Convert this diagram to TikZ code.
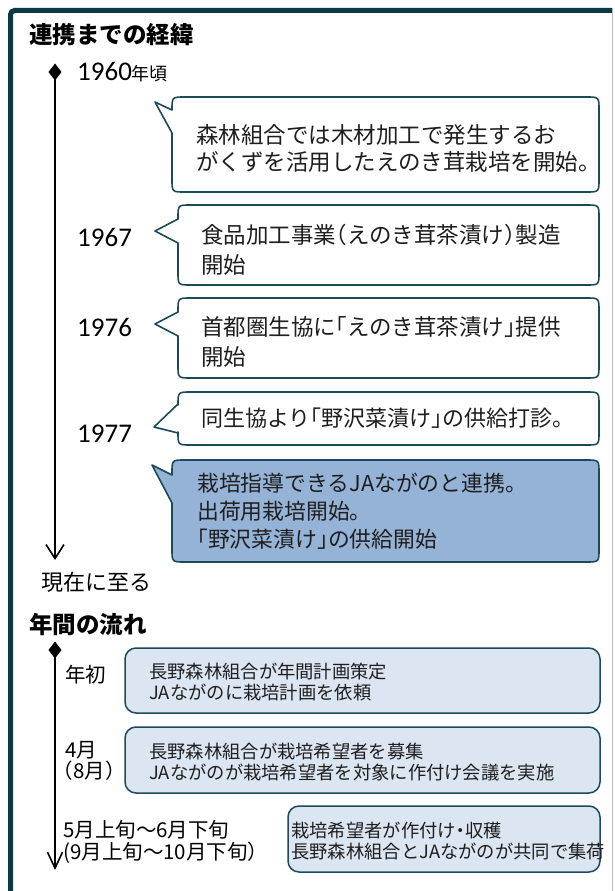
\documentclass[tikz,border=0pt]{standalone}
\usepackage{fontspec}
\setmainfont{Noto Sans CJK JP}
\newfontfamily\numfont{Carlito}
\usetikzlibrary{shapes.geometric,arrows.meta}
\definecolor{framec}{HTML}{0B3A46}
\definecolor{bordc}{HTML}{1C4A59}
\definecolor{bluef}{HTML}{95B3D7}
\definecolor{lightf}{HTML}{DCE6F2}
\definecolor{txtc}{HTML}{1E1E1E}
\newcommand\hb[1]{{\addfontfeature{RawFeature=+halt}#1}}
\newcommand\bubR{13}
% L T R B tipx tipy a1 a2 fill
\newcommand\bubble[9]{\draw[bubstyle,fill=#9] (#1,#7) -- (#5,#6) -- (#1,#8) -- (#1,#4-\bubR) .. controls (#1,#4) .. (#1+\bubR,#4) -- (#3-\bubR,#4) .. controls (#3,#4) .. (#3,#4-\bubR) -- (#3,#2+\bubR) .. controls (#3,#2) .. (#3-\bubR,#2) -- (#1+\bubR,#2) .. controls (#1,#2) .. (#1,#2+\bubR) -- cycle;}
\newcommand\diamondat[1]{\fill[black] (#1) ++(0,-8.5) -- ++(6.5,8.5) -- ++(-6.5,8.5) -- ++(-6.5,-8.5) -- cycle;}
\tikzset{
  bubstyle/.style={draw=bordc,line width=1.6pt,line join=round},
  boxstyle/.style={draw=bordc,line width=1.5pt,fill=lightf,rounded corners=11pt},
  heading/.style={anchor=west,inner sep=0pt,text=black,font=\fontsize{23.5}{26}\selectfont\bfseries},
  yearlab/.style={anchor=west,inner sep=0pt,text=black,font=\numfont\fontsize{27}{30}\selectfont},
  bubtxt/.style={anchor=west,inner sep=0pt,align=left,text=txtc},
  boxtxt/.style={anchor=west,inner sep=0pt,align=left,text=txtc,font=\fontsize{18.3}{21}\selectfont},
  sidelab/.style={anchor=west,inner sep=0pt,align=left,text=black,font=\fontsize{20.5}{20}\selectfont},
  dpt/.style={inner sep=0pt,minimum size=0pt},
  tline/.style={draw=black,line width=1.6pt},
}
\begin{document}
\begin{tikzpicture}[x=1pt,y=-1pt]
\useasboundingbox (0,0) rectangle (614,891);
\fill[white] (0,0) rectangle (614,891);
% frame
\draw[framec,line width=5pt,rounded corners=4pt] (10.5,900) -- (10.5,10.5) -- (612,10.5);
\draw[gray!55,line width=1pt] (612.5,8) -- (612.5,891);

% ---- section 1
\node[heading] (h1) at (29,35) {連携までの経緯};
\node[dpt] (d1) at (55,72) {};
\coordinate (e1) at (55,560);
\draw[tline,-{Straight Barb[length=14pt,width=18pt]}] (d1.center) -- (e1);
\diamondat{d1.center}

\node[yearlab] (y1960) at (77,72) {1960{\rmfamily\fontsize{18}{20}\selectfont 年頃}};
\node[yearlab] (y1967) at (77,237) {1967};
\node[yearlab] (y1976) at (77,327) {1976};
\node[yearlab] (y1977) at (77,434) {1977};

\bubble{172}{97}{599}{192}{155}{102}{110}{133}{white}
\bubble{178}{205}{599}{285}{155}{231}{219}{243}{white}
\bubble{178}{298}{599}{378}{155}{324}{312}{336}{white}
\bubble{178}{392}{599}{445}{154}{427}{404}{433}{white}
\bubble{172}{460}{599}{562}{152}{465}{475}{503}{bluef}

\node[bubtxt,font=\fontsize{22.5}{27}\selectfont] (b1) at (196,148.5) {森林組合では木材加工で発生するお\\がくずを活用したえのき茸栽培を開始。};
\node[bubtxt,font=\fontsize{22.5}{30}\selectfont] (b2) at (201,250) {食品加工事業\hb{（}えのき茸茶漬け\hb{）}製造\\開始};
\node[bubtxt,font=\fontsize{22.5}{30}\selectfont] (b3) at (201,342) {首都圏生協に\hb{「}えのき茸茶漬け\hb{」}提供\\開始};
\node[bubtxt,font=\fontsize{22}{30}\selectfont] (b4) at (201,418) {同生協より\hb{「}野沢菜漬け\hb{」}の供給打診。};
\node[bubtxt,font=\fontsize{21.8}{28}\selectfont] (b5) at (197,511) {栽培指導できるJAながのと連携。\\出荷用栽培開始。\\\hb{「}野沢菜漬け\hb{」}の供給開始};

\node[anchor=west,inner sep=0pt,text=black,font=\fontsize{22}{24}\selectfont] (now) at (41,582) {現在に至る};

% ---- section 2
\node[heading] (h2) at (29,625) {年間の流れ};
\node[dpt] (d2) at (55,650) {};
\coordinate (e2) at (55,870);
\draw[tline,-{Straight Barb[length=16pt,width=15pt]}] (d2.center) -- (e2);
\diamondat{d2.center}

\draw[boxstyle] (125,648) rectangle (600,713);
\draw[boxstyle] (125,727) rectangle (600,793);
\draw[boxstyle] (288,806) rectangle (600,872);

\node[sidelab] (l1) at (65,675) {年初};
\node[sidelab] (l2a) at (65,750) {4月};
\node[sidelab] (l2b) at (63,771) {\hb{（}8月\hb{）}};
\node[sidelab] (l3a) at (63,830) {5月上旬～6月下旬};
\node[sidelab] (l3b) at (63,853) {(9月上旬～10月下旬\hb{）}};

\node[boxtxt] (t1) at (149,682.5) {長野森林組合が年間計画策定\\JAながのに栽培計画を依頼};
\node[boxtxt] (t2) at (149,762) {長野森林組合が栽培希望者を募集\\JAながのが栽培希望者を対象に作付け会議を実施};
\node[boxtxt] (t3) at (291,841.5) {栽培希望者が作付け\hb{・}収穫\\長野森林組合とJAながのが共同で集荷};
\end{tikzpicture}
\end{document}
